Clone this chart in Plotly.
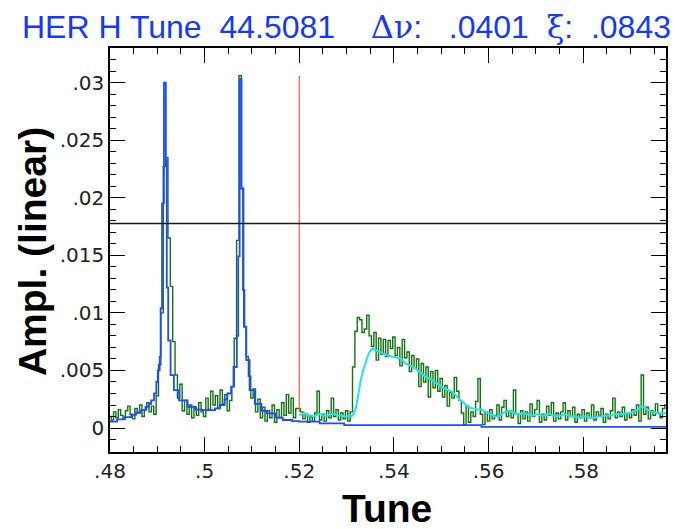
import plotly.graph_objects as go

# ---------------- data (amplitudes in units of 1e-3) ----------------
green_start = 0.48
green_step = 0.0005
green_milli = [
    1.0, 0.7, 1.4, 0.9, 1.6, 1.1, 0.8, 1.5, 1.9, 1.2,
    0.8, 1.7, 1.3, 2.0, 1.0, 1.6, 2.2, 1.4, 1.9, 1.2,
    2.8, 5.5, 10.0, 22.7, 23.5, 16.5, 12.3, 7.5, 4.6, 2.6,
    3.8, 1.5, 2.4, 1.2, 2.0, 0.9, 1.8, 1.1, 2.2, 1.4,
    1.0, 2.6, 1.6, 3.2, 2.0, 2.8, 1.7, 3.3, 2.1, 2.9,
    1.5, 2.4, 3.6, 7.8, 16.3, 30.6, 20.8, 8.8, 6.2, 4.5,
    2.6, 3.4, 1.4, 2.5, 0.9, 1.8, 0.6, 1.5, 0.9, 2.0,
    0.5, 1.6, 0.9, 2.2, 1.1, 2.9, 1.3, 2.6, 0.9, 1.7,
    1.7, 1.4, 0.8, 1.2, 0.5, 1.0, 0.6, 1.3, 3.2, 0.7,
    1.2, 0.6, 1.5, 0.9, 2.6, 1.0, 1.6, 0.7, 1.3, 0.8,
    1.5, 0.6, 1.4, 5.3, 8.4, 9.6, 9.4, 8.3, 8.6, 9.8,
    8.0, 7.1, 8.3, 5.9, 7.8, 6.4, 7.7, 6.2, 7.6, 6.9,
    7.9, 6.3, 7.0, 5.4, 7.7, 6.1, 6.6, 4.9, 6.3, 5.2,
    6.0, 3.6, 5.6, 4.0, 5.3, 2.7, 4.9, 3.5, 5.0, 3.2,
    4.3, 2.7, 3.7, 1.9, 3.1, 2.6, 4.4, 3.2, 2.4, 1.3,
    0.3, 1.9, 0.5, 1.4, 1.0, 2.3, 4.3, 1.2, 0.3, 1.4,
    0.6, 1.6, 0.8, 1.1, 2.0, 0.7, 1.8, 2.4, 1.0, 1.5,
    0.9, 3.3, 1.2, 0.4, 1.5, 0.8, 1.4, 0.6, 2.1, 1.0,
    1.6, 2.4, 0.5, 1.2, 0.7, 1.9, 1.1, 2.2, 0.6, 1.3,
    0.8, 1.4, 2.2, 0.7, 1.5, 1.0, 1.8, 0.5, 1.2, 0.9,
    1.6, 0.6, 1.3, 0.9, 2.0, 0.7, 1.4, 1.1, 1.7, 0.5,
    1.2, 0.8, 1.5, 2.6, 0.9, 1.4, 1.0, 1.8, 0.7, 1.3,
    0.9, 1.6, 1.1, 2.0, 0.6, 4.6, 1.2, 1.8, 0.8, 1.5,
    1.1, 2.1, 1.3, 0.9, 1.7, 2.0,
]

fit_tune = [
    0.4800, 0.4815, 0.4830, 0.4845, 0.4855, 0.4866, 0.4875, 0.4882, 0.4887, 0.4893,
    0.4898, 0.4901, 0.4905, 0.4907, 0.4910, 0.4914, 0.4918, 0.4920, 0.4923, 0.4928,
    0.4935, 0.4946, 0.4964, 0.4980, 0.4995, 0.5010, 0.5022, 0.5032, 0.5042, 0.5048,
    0.5056, 0.5061, 0.5068, 0.5071, 0.5074, 0.5078, 0.5081, 0.5084, 0.5088, 0.5095,
    0.5106, 0.5120, 0.5131, 0.5150, 0.5165, 0.5185, 0.5200, 0.5243, 0.5295, 0.5585,
    0.5975,
]
fit_milli = [
    0.55, 0.75, 0.95, 1.15, 1.35, 1.56, 1.85, 2.1, 2.4, 3.0,
    4.0, 5.0, 6.2, 10.4, 19.5, 30.0, 23.3, 12.2, 7.6, 4.6,
    3.3, 2.4, 1.85, 1.6, 1.55, 1.56, 1.7, 2.0, 2.5, 3.0,
    3.6, 5.3, 8.0, 14.9, 30.3, 20.8, 12.0, 8.8, 5.9, 3.3,
    2.1, 1.5, 1.27, 0.9, 0.7, 0.6, 0.55, 0.4, 0.26, 0.1,
    0.1,
]

smooth_start = 0.52
smooth_step = 0.0005
smooth_milli = [
    1.1, 1.2, 1.3, 1.2, 1.1, 1.1, 1.0, 1.1, 1.2, 1.2,
    1.1, 1.1, 1.1, 1.2, 1.2, 1.2, 1.1, 1.1, 1.1, 1.0,
    1.0, 1.1, 1.0, 1.2, 1.8, 3.0, 4.2, 5.0, 5.7, 6.3,
    6.7, 6.9, 6.8, 6.7, 6.6, 6.5, 6.4, 6.3, 6.3, 6.2,
    6.2, 6.1, 6.1, 6.0, 5.8, 5.6, 5.5, 5.4, 5.3, 5.2,
    5.0, 4.8, 4.7, 4.5, 4.4, 4.3, 4.2, 4.0, 3.9, 3.8,
    3.6, 3.5, 3.4, 3.3, 3.2, 3.1, 2.9, 2.6, 2.4, 2.3,
    2.1, 1.9, 1.8, 1.7, 1.7, 1.6, 1.6, 1.6, 1.5, 1.4,
    1.3, 1.2, 1.1, 1.0, 1.0, 1.1, 1.3, 1.4, 1.5, 1.5,
    1.4, 1.3, 1.2, 1.2, 1.3, 1.3, 1.2, 1.2, 1.1, 1.1,
    1.2, 1.2, 1.1, 1.1, 1.1, 1.2, 1.2, 1.1, 1.1, 1.0,
    1.1, 1.1, 1.2, 1.2, 1.1, 1.0, 1.0, 1.0, 0.9, 0.9,
    1.0, 1.0, 1.0, 0.9, 0.9, 0.9, 1.0, 1.0, 1.0, 1.1,
    1.1, 1.1, 1.1, 1.2, 1.2, 1.2, 1.2, 1.2, 1.3, 1.3,
    1.3, 1.4, 1.5, 1.6, 1.8, 1.9, 1.8, 1.6, 1.5, 1.4,
    1.4, 1.3, 1.3, 1.3, 1.3, 1.3,
]

marker_tune = 0.52
marker_low = 0.0014
marker_high = 0.0306
threshold_amp = 0.01777

x_range = [0.48, 0.5975]
y_range = [-0.00208, 0.0330]
x_tick_vals = [0.48, 0.50, 0.52, 0.54, 0.56, 0.58]
x_tick_text = [".48", ".5", ".52", ".54", ".56", ".58"]
y_tick_vals = [0.0, 0.005, 0.010, 0.015, 0.020, 0.025, 0.030]
y_tick_text = ["0", ".005", ".01", ".015", ".02", ".025", ".03"]

NB = "\u00a0"
SERIF = "<span style=\"font-family:'DejaVu Serif'\">{}</span>"
title_text = ("HER H Tune" + NB * 2 + "44.5081" + NB * 4 + SERIF.format("\u0394\u03bd") + ":"
              + NB * 3 + ".0401" + NB * 2 + SERIF.format("\u03be") + ":" + NB * 2 + ".0843")

# ---------------- figure ----------------
# The page body has an 8px default margin, so the figure is sized/positioned to compensate.
W, H = 671, 521
L, R, T, B = 102, 12.5, 40, 77
PW, PH = W - L - R, H - T - B

green_amp = [v * 1e-3 for v in green_milli]
fit_amp = [v * 1e-3 for v in fit_milli]
smooth_amp = [v * 1e-3 for v in smooth_milli]

fig = go.Figure()
fig.add_trace(go.Scatter(x0=green_start, dx=green_step, y=green_amp, mode="lines",
                         line=dict(color="#137313", width=1.4, shape="hvh"),
                         showlegend=False, hoverinfo="skip"))
fig.add_trace(go.Scatter(x0=smooth_start, dx=smooth_step, y=smooth_amp, mode="lines",
                         line=dict(color="#1ee6e6", width=2),
                         showlegend=False, hoverinfo="skip"))
fig.add_trace(go.Scatter(x=fit_tune, y=fit_amp, mode="lines",
                         line=dict(color="#1f4bff", width=1.8, shape="hv"),
                         showlegend=False, hoverinfo="skip"))

fig.add_shape(type="line", xref="x", yref="y", x0=marker_tune, x1=marker_tune,
              y0=marker_low, y1=marker_high, line=dict(color="#f5694d", width=1.3))
fig.add_shape(type="line", xref="paper", yref="y", x0=0, x1=1,
              y0=threshold_amp, y1=threshold_amp, line=dict(color="#1a1a1a", width=1.5))

axis_common = dict(showgrid=False, zeroline=False, showline=True, linecolor="black",
                   linewidth=1.5, mirror="ticks", ticks="inside", tickcolor="black",
                   tickwidth=1.3, ticklen=15, automargin=False,
                   tickfont=dict(family="DejaVu Sans, sans-serif", size=20, color="#222"))

fig.update_xaxes(range=x_range, tickvals=x_tick_vals, ticktext=x_tick_text,
                 minor=dict(dtick=0.005, tick0=0.48, ticks="inside", ticklen=6,
                            tickcolor="black", tickwidth=1.3),
                 **axis_common)
fig.update_yaxes(range=y_range, tickvals=y_tick_vals, ticktext=y_tick_text,
                 minor=dict(dtick=0.001, tick0=0.0, ticks="inside", ticklen=6,
                            tickcolor="black", tickwidth=1.3),
                 **axis_common)

fig.update_layout(
    width=W, height=H,
    margin=dict(l=L, r=R, t=T, b=B, autoexpand=False),
    paper_bgcolor="white", plot_bgcolor="white",
    title=dict(text=title_text, x=14 / W, xanchor="left", xref="container",
               y=1 - 18.5 / H, yanchor="middle", yref="container",
               font=dict(family="Liberation Sans, Arial, sans-serif", size=32, color="#1438ff")),
    annotations=[
        dict(text="<b>Tune</b>", xref="paper", yref="paper", x=(379 - L) / PW, y=-(501 - (T + PH)) / PH,
             xanchor="center", yanchor="middle", showarrow=False,
             font=dict(family="Liberation Sans, Arial, sans-serif", size=39, color="black")),
        dict(text="<b>Ampl. (linear)</b>", xref="paper", yref="paper", x=-(L - 24) / PW,
             y=((T + PH) - 244) / PH,
             xanchor="center", yanchor="middle", showarrow=False, textangle=-90,
             font=dict(family="Liberation Sans, Arial, sans-serif", size=39, color="black")),
    ],
)

fig.write_html("out.html")
